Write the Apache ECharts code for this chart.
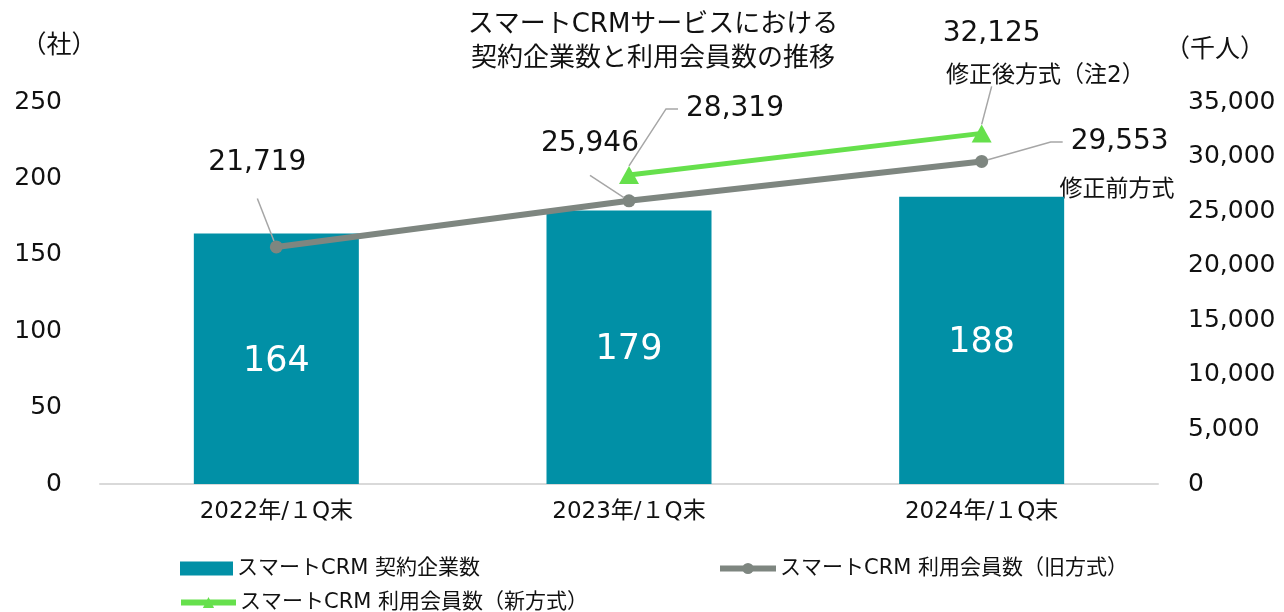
<!DOCTYPE html>
<html>
<head>
<meta charset="utf-8">
<script src="https://cdn.jsdelivr.net/npm/echarts@6/dist/echarts.min.js"></script>
<style>
  html, body { margin: 0; padding: 0; background: #fff; }
  #chart { width: 1284px; height: 612px; }
</style>
</head>
<body>
<div id="chart"></div>
<script>
// data
const categories = ["2022年/１Q末", "2023年/１Q末", "2024年/１Q末"];
const companies = [164, 179, 188];
const membersOld = [21719, 25946, 29553];
const membersNew = [null, 28319, 32125];
const leftTicks = [0, 250, 50];
const rightTicks = [0, 35000, 5000];

const FONT = "'DejaVu Sans', 'Noto Sans CJK JP', sans-serif";
const BAR_COLOR = "#0190a6";
const OLD_COLOR = "#7e8680";
const NEW_COLOR = "#66e04c";
const GUIDE_COLOR = "#a6a6a6";

// label placement (offsets from default "top" position)
const oldShift = [{ dx: -19, dy: -37 }, { dx: -39, dy: -14 }, { dx: 134, dy: 6 }];
const oldPad = [[0, 0, 22, 0], [0, 0, 18, 0], [0, 0, 0, 8]];
const oldLen2 = [0, 0, 12];
const newShift = [{}, { dx: 102, dy: -38 }, { dx: 10, dy: -33 }];
const newPad = [[0, 0, 0, 0], [0, 0, 0, 8], [0, 0, 39, 0]];
const newLen2 = [0, 12, 0];

const fmt = (v) => Number(v).toLocaleString("en-US");

const oldData = membersOld.map((v, i) => ({
  value: v,
  label: { padding: oldPad[i] },
  labelLine: { length2: oldLen2[i] },
}));
const newData = membersNew.map((v, i) => ({
  value: v,
  label: { padding: newPad[i] },
  labelLine: { length2: newLen2[i] },
}));

const legendBase = {
  padding: 0,
  itemHeight: 14,
  itemGap: 4,
  selectedMode: false,
  lineStyle: { width: 6 },
  textStyle: { fontFamily: FONT, fontSize: 21, color: "#111", padding: [0, 0, 0, -1] },
};

const option = {
  animation: false,
  textStyle: { fontFamily: FONT },
  title: {
    text: "スマートCRMサービスにおける\n契約企業数と利用会員数の推移",
    left: 648,
    textAlign: "center",
    top: 3,
    textStyle: {
      fontFamily: FONT,
      fontSize: 26,
      fontWeight: "normal",
      lineHeight: 34,
      color: "#111",
    },
  },
  grid: { left: 100, right: 126, top: 102, bottom: 128 },
  legend: [
    Object.assign({}, legendBase, {
      data: [{ name: "スマートCRM 契約企業数", icon: "rect" }],
      left: 180,
      top: 558,
      itemWidth: 53,
    }),
    Object.assign({}, legendBase, {
      data: ["スマートCRM 利用会員数（旧方式）"],
      left: 717,
      top: 558,
      itemWidth: 56,
    }),
    Object.assign({}, legendBase, {
      data: ["スマートCRM 利用会員数（新方式）"],
      left: 178,
      top: 592,
      itemWidth: 55,
    }),
  ],
  xAxis: {
    type: "category",
    data: categories,
    axisLine: { lineStyle: { color: "#d9d9d9", width: 2 } },
    axisTick: { show: false },
    axisLabel: { fontFamily: FONT, fontSize: 23, color: "#111", margin: 17 },
  },
  yAxis: [
    {
      type: "value",
      min: leftTicks[0],
      max: leftTicks[1],
      interval: leftTicks[2],
      splitLine: { show: false },
      axisLine: { show: false },
      axisLabel: { fontFamily: FONT, fontSize: 25, color: "#111", margin: 38 },
    },
    {
      type: "value",
      min: rightTicks[0],
      max: rightTicks[1],
      interval: rightTicks[2],
      splitLine: { show: false },
      axisLine: { show: false },
      axisLabel: {
        fontFamily: FONT,
        fontSize: 25,
        color: "#111",
        margin: 30,
        formatter: (v) => fmt(v),
      },
    },
  ],
  series: [
    {
      name: "スマートCRM 契約企業数",
      type: "bar",
      data: companies,
      barWidth: 165,
      itemStyle: { color: BAR_COLOR },
      label: {
        show: true,
        position: "inside",
        color: "#fff",
        fontFamily: FONT,
        fontSize: 35,
        offset: [0, 3],
      },
    },
    {
      name: "スマートCRM 利用会員数（旧方式）",
      type: "line",
      yAxisIndex: 1,
      data: oldData,
      symbol: "circle",
      symbolSize: 13,
      lineStyle: { color: OLD_COLOR, width: 6 },
      itemStyle: { color: OLD_COLOR },
      label: {
        show: true,
        position: "top",
        fontFamily: FONT,
        fontSize: 28,
        color: "#111",
        backgroundColor: "rgba(0,0,0,0)",
        formatter: (p) => fmt(p.value),
      },
      labelLine: { show: true, minTurnAngle: 0, lineStyle: { color: GUIDE_COLOR, width: 1.5 } },
      labelLayout: (p) => oldShift[p.dataIndex],
    },
    {
      name: "スマートCRM 利用会員数（新方式）",
      type: "line",
      yAxisIndex: 1,
      data: newData,
      symbol: "triangle",
      symbolSize: [20, 18],
      lineStyle: { color: NEW_COLOR, width: 5 },
      itemStyle: { color: NEW_COLOR },
      label: {
        show: true,
        position: "top",
        fontFamily: FONT,
        fontSize: 28,
        color: "#111",
        backgroundColor: "rgba(0,0,0,0)",
        formatter: (p) => fmt(p.value),
      },
      labelLine: { show: true, minTurnAngle: 0, lineStyle: { color: GUIDE_COLOR, width: 1.5 } },
      labelLayout: (p) => newShift[p.dataIndex],
    },
  ],
  graphic: [
    {
      type: "text",
      x: 59,
      y: 46,
      style: { text: "（社）", fontFamily: FONT, fontSize: 25, fill: "#111", align: "center", verticalAlign: "middle" },
    },
    {
      type: "text",
      x: 1215,
      y: 50,
      style: { text: "（千人）", fontFamily: FONT, fontSize: 25, fill: "#111", align: "center", verticalAlign: "middle" },
    },
    {
      type: "text",
      x: 946,
      y: 76,
      style: { text: "修正後方式（注2）", fontFamily: FONT, fontSize: 23, fill: "#111", align: "left", verticalAlign: "middle" },
    },
    {
      type: "text",
      x: 1117,
      y: 190,
      style: { text: "修正前方式", fontFamily: FONT, fontSize: 23, fill: "#111", align: "center", verticalAlign: "middle" },
    },
  ],
};

const myChart = echarts.init(document.getElementById("chart"));
myChart.setOption(option);
</script>
</body>
</html>
